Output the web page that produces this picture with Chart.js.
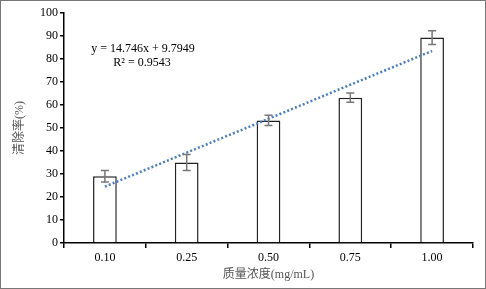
<!DOCTYPE html>
<html><head><meta charset="utf-8">
<script src="https://cdn.jsdelivr.net/npm/chart.js@4/dist/chart.umd.min.js"></script>
<style>html,body{margin:0;padding:0;background:#fff}#wrap{width:486px;height:289px}</style>
</head><body><div id="wrap"><canvas id="c" width="486" height="289"></canvas></div>
<script>
const categories = ["0.10", "0.25", "0.50", "0.75", "1.00"];
const removalRate = [29.0, 35.0, 53.3, 63.2, 89.3];
const errorValues = [2.5, 3.5, 2.2, 2.0, 3.0];
const trendValues = [24.5, 39.3, 54.0, 68.8, 83.5];
const equationText = "y = 14.746x + 9.7949";
const r2Text = "R\u00B2 = 0.9543";
const xTitle = "质量浓度(mg/mL)";
const yTitle = "清除率(%)";

const FONT = '"Liberation Serif", "Noto Sans CJK SC", serif';

const errorBarPlugin = {
  id: 'errorBars',
  afterDatasetsDraw(chart) {
    const ctx = chart.ctx;
    const meta = chart.getDatasetMeta(0);
    const ys = chart.scales.y;
    ctx.save();
    ctx.strokeStyle = '#777';
    ctx.lineWidth = 1.5;
    meta.data.forEach((bar, i) => {
      const x = bar.x;
      const top = ys.getPixelForValue(removalRate[i] + errorValues[i]);
      const bot = ys.getPixelForValue(removalRate[i] - errorValues[i]);
      ctx.beginPath();
      ctx.moveTo(x, top); ctx.lineTo(x, bot);
      ctx.moveTo(x - 4, top); ctx.lineTo(x + 4, top);
      ctx.moveTo(x - 4, bot); ctx.lineTo(x + 4, bot);
      ctx.stroke();
    });
    ctx.restore();
  }
};

const decorPlugin = {
  id: 'decor',
  afterDraw(chart) {
    const ctx = chart.ctx;
    ctx.save();
    ctx.strokeStyle = '#777';
    ctx.lineWidth = 1;
    ctx.strokeRect(0.5, 0.5, chart.width - 1, chart.height - 1);
    ctx.fillStyle = '#000';
    ctx.font = '12px ' + FONT;
    ctx.textAlign = 'center';
    ctx.textBaseline = 'middle';
    ctx.fillText(equationText, 143, 49);
    ctx.fillText(r2Text, 142, 63);
    ctx.restore();
  }
};

new Chart(document.getElementById('c'), {
  type: 'bar',
  data: {
    labels: categories,
    datasets: [
      {
        type: 'bar',
        data: removalRate,
        backgroundColor: '#fff',
        borderColor: '#222',
        borderWidth: 1.5,
        barPercentage: 0.29,
        categoryPercentage: 1.0,
        order: 2
      },
      {
        type: 'line',
        data: trendValues,
        borderColor: '#4a7ec4',
        borderWidth: 2.5,
        borderDash: [2, 2.2],
        pointRadius: 0,
        fill: false,
        tension: 0,
        order: 1
      }
    ]
  },
  options: {
    responsive: false,
    animation: false,
    devicePixelRatio: 1,
    layout: { padding: { top: 13, right: 13, left: 0, bottom: 0 } },
    plugins: { legend: { display: false }, tooltip: { enabled: false } },
    scales: {
      x: {
        offset: true,
        grid: { offset: true, drawOnChartArea: false, drawTicks: true, tickLength: 5, color: '#000', lineWidth: 1.5 },
        border: { color: '#000', width: 1.5 },
        ticks: { color: '#000', font: { family: FONT, size: 12 }, padding: 3 },
        title: { display: true, text: xTitle, color: '#555', font: { family: FONT, size: 12 }, padding: { top: 7, bottom: 7 } },
        afterFit(s) { s.height = 46; }
      },
      y: {
        min: 0, max: 100,
        ticks: { stepSize: 10, color: '#000', font: { family: FONT, size: 12 }, padding: 2 },
        grid: { drawOnChartArea: false, drawTicks: true, tickLength: 4, color: '#000', lineWidth: 1.5 },
        border: { color: '#000', width: 1.5 },
        title: { display: true, text: yTitle, color: '#555', font: { family: FONT, size: 12 }, padding: { top: 13, bottom: 0 } },
        afterFit(s) { s.width = 64; }
      }
    }
  },
  plugins: [errorBarPlugin, decorPlugin]
});
</script>
</body></html>
